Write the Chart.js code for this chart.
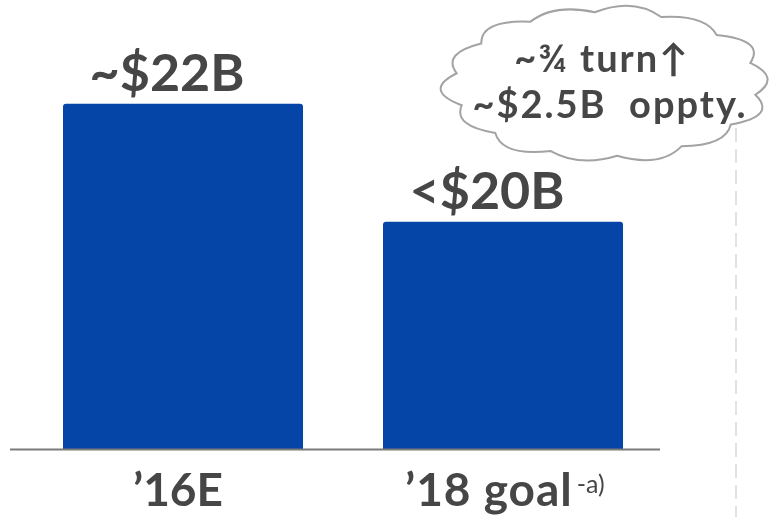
<!DOCTYPE html>
<html>
<head>
<meta charset="utf-8">
<script src="https://cdn.jsdelivr.net/npm/chart.js@4.4.1/dist/chart.umd.min.js"></script>
<style>
  html, body { margin: 0; padding: 0; background: #ffffff; }
  #wrap { width: 769px; height: 517px; }
</style>
</head>
<body>
<div id="wrap"><canvas id="c" width="769" height="517"></canvas></div>
<script>
// Categories, values and the labels printed above each bar
const categories = ["\u201916E", "\u201918 goal"];
const categorySuperscripts = ["", "-a)"];
const costValues = [22, 20];
const valueLabels = ["~$22B", "<$20B"];
const calloutLines = ["~\u00BE turn\u2191", "~$2.5B  oppty."];

const TEXT = "#464646";
const BAR = "#0645a8";
const FONT = "Lato, 'Open Sans', sans-serif";

// Baseline rule, bar value labels, category labels, callout cloud and divider
const decor = {
  id: "decor",
  afterDatasetsDraw(chart) {
    const { ctx, chartArea } = chart;
    const xs = chart.scales.x;
    const meta = chart.getDatasetMeta(0);
    ctx.save();

    // baseline
    ctx.strokeStyle = "#7a7a7a";
    ctx.lineWidth = 2;
    ctx.beginPath();
    ctx.moveTo(10, chartArea.bottom + 0.5);
    ctx.lineTo(chartArea.right - 3, chartArea.bottom + 0.5);
    ctx.stroke();

    // value labels above bars
    ctx.fillStyle = TEXT;
    ctx.font = "bold 52px " + FONT;
    ctx.textAlign = "center";
    ctx.textBaseline = "alphabetic";
    meta.data.forEach((bar, i) => {
      ctx.fillText(valueLabels[i], bar.x - 16, bar.y - 13);
    });

    // category labels
    categories.forEach((cat, i) => {
      const cx = xs.getPixelForValue(i);
      ctx.font = "bold 46px " + FONT;
      ctx.letterSpacing = i === 0 ? "0px" : "1px";
      const w = ctx.measureText(cat).width;
      const left = i === 0 ? cx - 5 - w / 2 : cx - 98;
      ctx.textAlign = "left";
      ctx.fillText(cat, left, 506);
      ctx.letterSpacing = "0px";
      const sup = categorySuperscripts[i];
      if (sup) {
        ctx.font = "25px " + FONT;
        ctx.fillText(sup, left + w + 4, 493);
      }
    });

    // dashed divider on the right
    ctx.strokeStyle = "#e2e2e2";
    ctx.lineWidth = 2;
    ctx.setLineDash([14, 7]);
    ctx.beginPath();
    ctx.moveTo(736, 128);
    ctx.lineTo(736, 517);
    ctx.stroke();
    ctx.setLineDash([]);

    // callout cloud
    const cx = 606, cy = 84, rx = 151, ry = 72, bumps = 14;
    ctx.fillStyle = "#ffffff";
    ctx.strokeStyle = "#a3a3a3";
    ctx.lineWidth = 2;
    ctx.beginPath();
    for (let k = 0; k < bumps; k++) {
      const a0 = (k / bumps) * Math.PI * 2 + 0.15;
      const a1 = ((k + 1) / bumps) * Math.PI * 2 + 0.15;
      const p0 = [cx + rx * Math.cos(a0), cy + ry * Math.sin(a0)];
      const p1 = [cx + rx * Math.cos(a1), cy + ry * Math.sin(a1)];
      const am = (a0 + a1) / 2;
      const bulge = k % 2 === 0 ? 1.22 : 1.17;
      const pc = [cx + rx * bulge * Math.cos(am), cy + ry * bulge * Math.sin(am)];
      if (k === 0) ctx.moveTo(p0[0], p0[1]);
      ctx.quadraticCurveTo(pc[0], pc[1], p1[0], p1[1]);
    }
    ctx.closePath();
    ctx.fill();
    ctx.stroke();

    ctx.fillStyle = TEXT;
    ctx.font = "bold 38px " + FONT;
    ctx.textAlign = "center";
    ctx.letterSpacing = "2px";
    ctx.fillText(calloutLines[0], 602, 72);
    ctx.fillText(calloutLines[1], 610, 118);
    ctx.restore();
  }
};

new Chart(document.getElementById("c"), {
  type: "bar",
  data: {
    labels: categories,
    datasets: [{
      data: costValues,
      backgroundColor: BAR,
      borderRadius: 3,
      borderSkipped: false,
      barPercentage: 0.75,
      categoryPercentage: 1
    }]
  },
  options: {
    responsive: false,
    animation: false,
    layout: { padding: { left: 23, right: 106, top: 0, bottom: 68 } },
    plugins: { legend: { display: false }, tooltip: { enabled: false } },
    scales: {
      x: { display: false },
      y: { display: false, min: 16.15, max: 23.76 }
    }
  },
  plugins: [decor]
});
</script>
</body>
</html>
